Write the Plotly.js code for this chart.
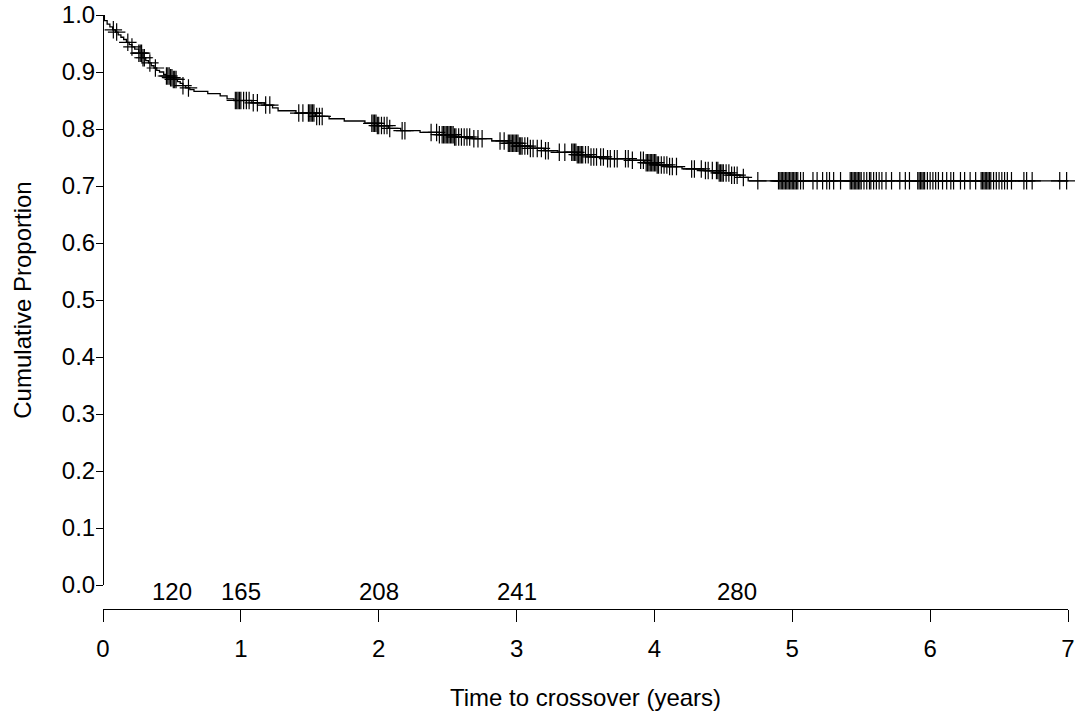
<!DOCTYPE html>
<html>
<head>
<meta charset="utf-8">
<script src="https://cdn.plot.ly/plotly-3.0.1.min.js"></script>
<style>html,body{margin:0;padding:0;background:#fff;}#chart{width:1075px;height:715px;}</style>
</head>
<body>
<div id="chart"></div>
<script>
// Kaplan-Meier step curve (time in years, cumulative proportion)
const stepTimes = [0, 0.01, 0.03, 0.05, 0.07, 0.09, 0.11, 0.13, 0.15, 0.17, 0.19, 0.21, 0.23, 0.26, 0.29, 0.31, 0.33, 0.35, 0.37, 0.39, 0.41, 0.44, 0.46, 0.49, 0.51, 0.54, 0.56, 0.58, 0.60, 0.63, 0.66, 0.76, 0.85, 0.90, 0.95, 1.08, 1.17, 1.23, 1.27, 1.40, 1.54, 1.64, 1.75, 1.90, 1.99, 2.07, 2.16, 2.30, 2.44, 2.55, 2.68, 2.82, 2.94, 3.02, 3.10, 3.20, 3.30, 3.44, 3.54, 3.66, 3.82, 3.93, 4.02, 4.10, 4.20, 4.36, 4.47, 4.55, 4.62, 4.68];
const stepSurv  = [1.000, 0.990, 0.984, 0.979, 0.974, 0.970, 0.965, 0.961, 0.957, 0.952, 0.948, 0.944, 0.940, 0.933, 0.925, 0.920, 0.916, 0.911, 0.907, 0.903, 0.900, 0.896, 0.893, 0.890, 0.887, 0.883, 0.880, 0.876, 0.872, 0.869, 0.866, 0.862, 0.858, 0.853, 0.850, 0.846, 0.842, 0.837, 0.832, 0.828, 0.822, 0.818, 0.814, 0.810, 0.806, 0.801, 0.797, 0.794, 0.790, 0.786, 0.783, 0.779, 0.775, 0.770, 0.766, 0.762, 0.759, 0.755, 0.751, 0.748, 0.745, 0.741, 0.737, 0.734, 0.730, 0.727, 0.723, 0.719, 0.715, 0.709];
const endTime = 7.0;

// Censoring times (years)
const censorTimes = [0.075, 0.099, 0.18, 0.21, 0.26, 0.27, 0.28, 0.29, 0.30, 0.34, 0.38,
  0.46, 0.47, 0.48, 0.49, 0.50, 0.51, 0.52, 0.53, 0.58, 0.62,
  0.96, 0.97, 0.98, 0.99, 1.00, 1.02, 1.04, 1.06, 1.09, 1.12, 1.18, 1.21, 1.42,
  1.45, 1.49, 1.50, 1.51, 1.52, 1.53, 1.55, 1.57, 1.59,
  1.95, 1.96, 1.97, 1.98, 1.99, 2.00, 2.02, 2.04, 2.06, 2.08, 2.17, 2.19,
  2.38, 2.42, 2.44, 2.46, 2.47, 2.48, 2.49, 2.50, 2.51, 2.52, 2.53, 2.54, 2.55, 2.56, 2.58, 2.60, 2.62, 2.64, 2.66, 2.69, 2.72, 2.75,
  2.88, 2.91, 2.94, 2.95, 2.96, 2.97, 2.98, 2.99, 3.00, 3.01, 3.02, 3.03, 3.04, 3.06, 3.08, 3.10, 3.12, 3.15, 3.18, 3.21, 3.23, 3.31, 3.35,
  3.40, 3.41, 3.42, 3.43, 3.44, 3.45, 3.46, 3.47, 3.48, 3.50, 3.52, 3.54, 3.56, 3.58, 3.61, 3.63, 3.66, 3.68, 3.71, 3.73, 3.79, 3.81, 3.84,
  3.90, 3.92, 3.94, 3.95, 3.96, 3.97, 3.98, 3.99, 4.00, 4.01, 4.02, 4.03, 4.05, 4.07, 4.09, 4.11, 4.13, 4.16,
  4.27, 4.29, 4.34, 4.37, 4.39, 4.42, 4.45, 4.46, 4.47, 4.48, 4.49, 4.50, 4.52, 4.54, 4.56, 4.58, 4.60, 4.645, 4.75,
  4.90, 4.91, 4.92, 4.93, 4.94, 4.95, 4.96, 4.97, 4.98, 4.99, 5.00, 5.01, 5.02, 5.03, 5.04, 5.06, 5.08,
  5.15, 5.18, 5.22, 5.25, 5.27, 5.30, 5.35,
  5.42, 5.43, 5.44, 5.45, 5.46, 5.47, 5.48, 5.49, 5.50, 5.52, 5.54, 5.56, 5.57, 5.59, 5.61, 5.63, 5.65,
  5.68, 5.72, 5.78, 5.82, 5.85,
  5.91, 5.92, 5.93, 5.94, 5.95, 5.96, 5.98, 6.00, 6.02, 6.04, 6.06, 6.09, 6.12, 6.15, 6.17,
  6.22, 6.25, 6.29, 6.33,
  6.37, 6.38, 6.39, 6.40, 6.41, 6.42, 6.43, 6.44, 6.46, 6.48, 6.50, 6.52, 6.54, 6.56, 6.59,
  6.68, 6.70, 6.74, 6.94, 6.99];

// Numbers at risk shown along the bottom
const atRiskTimes  = [0.5, 1, 2, 3, 4.6];
const atRiskLabels = ['120', '165', '208', '241', '280'];

const xTickVals = [0, 1, 2, 3, 4, 5, 6, 7];
const yTickVals = [0, 0.1, 0.2, 0.3, 0.4, 0.5, 0.6, 0.7, 0.8, 0.9, 1.0];

function survAt(t) {
  let s = stepSurv[0];
  for (let i = 0; i < stepTimes.length; i++) { if (stepTimes[i] <= t) s = stepSurv[i]; }
  return s;
}

const lineX = stepTimes.concat([endTime]);
const lineY = stepSurv.concat([stepSurv[stepSurv.length - 1]]);

const FONT = '"Liberation Sans", Arial, Helvetica, sans-serif';

const traces = [
  {
    type: 'scatter', mode: 'lines', x: lineX, y: lineY,
    line: {color: '#000', width: 1.3, shape: 'hv'},
    hoverinfo: 'skip', showlegend: false, cliponaxis: false
  },
  {
    type: 'scatter', mode: 'markers', x: censorTimes, y: censorTimes.map(survAt),
    marker: {symbol: 'cross-thin-open', size: 12.5, color: '#000', line: {color: '#000', width: 1.2}},
    hoverinfo: 'skip', showlegend: false, cliponaxis: false
  }
];

const annotations = atRiskTimes.map((t, i) => ({
  x: t, y: 0, xref: 'x', yref: 'y', text: atRiskLabels[i], showarrow: false,
  xanchor: 'center', yanchor: 'middle', yshift: -6,
  font: {family: FONT, size: 24, color: '#000'}
}));

const layout = {
  width: 1075, height: 715,
  margin: {l: 103, r: 7, t: 15, b: 106, pad: 0},
  paper_bgcolor: '#fff', plot_bgcolor: '#fff',
  font: {family: FONT, size: 24, color: '#000'},
  showlegend: false,
  xaxis: {
    range: [0, 7], domain: [0, 1], anchor: 'free', position: 0,
    tickvals: xTickVals, ticktext: xTickVals.map(String),
    ticks: 'outside', ticklen: 12, tickwidth: 1, tickcolor: '#000',
    showline: true, linecolor: '#000', linewidth: 1, mirror: false,
    showgrid: false, zeroline: false,
    tickfont: {family: FONT, size: 24, color: '#000'},
    ticklabelstandoff: 6,
    title: {text: 'Time to crossover (years)', font: {family: FONT, size: 24, color: '#000'}, standoff: 28}
  },
  yaxis: {
    range: [0, 1], domain: [0.0404, 1], anchor: 'free', position: 0,
    tickvals: yTickVals, ticktext: yTickVals.map(v => v.toFixed(1)),
    ticks: 'outside', ticklen: 7, tickwidth: 1, tickcolor: '#000',
    showline: true, linecolor: '#000', linewidth: 1, mirror: false,
    showgrid: false, zeroline: false,
    tickfont: {family: FONT, size: 24, color: '#000'},
    ticklabelstandoff: -4,
    title: {text: 'Cumulative Proportion', font: {family: FONT, size: 24, color: '#000'}, standoff: 22}
  },
  annotations: annotations
};

Plotly.newPlot('chart', traces, layout, {staticPlot: true, displayModeBar: false});
</script>
</body>
</html>
